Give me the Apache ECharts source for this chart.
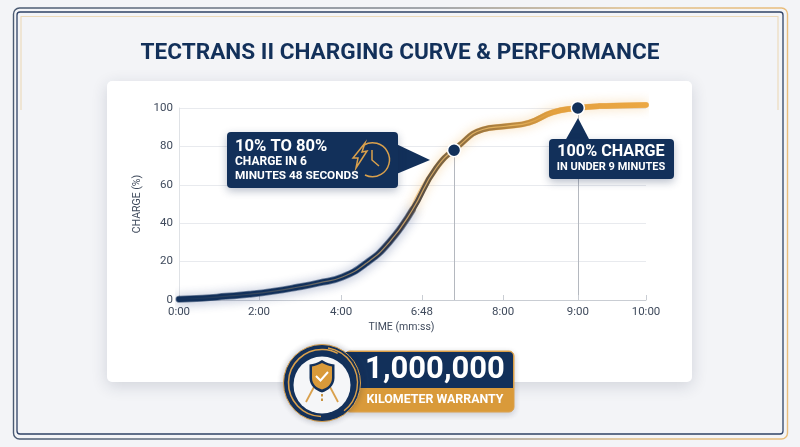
<!DOCTYPE html>
<html><head><meta charset="utf-8">
<style>html,body{margin:0;padding:0;background:#f3f4f7}#c{width:800px;height:447px}</style>
<script src="https://cdn.jsdelivr.net/npm/echarts@6/dist/echarts.min.js"></script>
</head><body><div id="c"></div>
<script>
// Axis tick positions (the reference's axis is not evenly spaced in time)
const tickPositions = [0, 1.713, 3.47, 5.2, 6.94, 8.54, 10];
const tickLabels = ['0:00', '2:00', '4:00', '6:48', '8:00', '9:00', '10:00'];
// Curve
const curveX = [0, 0.5, 1, 1.5, 2, 2.5, 3, 3.5, 4, 4.5, 5, 5.5, 6, 6.5, 7, 7.5, 8, 8.5, 9, 9.5, 10];
const curveY = [0.4, 0.9, 1.9, 3, 4.5, 6.5, 8.9, 12, 19, 30, 47, 68.5, 80.5, 88.8, 90.5, 92.4, 97.7, 99.9, 101, 101.3, 101.6];
const markerTimes = [5.89, 8.54];
const markerValues = [78, 100];
const curve = curveX.map((x, i) => [x, curveY[i]]);

const NAVY = '#12305a', GOLD = '#e3a03e', FONT = 'Roboto';
const chart = echarts.init(document.getElementById('c'), null, {renderer: 'canvas'});
const hg = stops => new echarts.graphic.LinearGradient(0, 0, 1, 0, stops.map(s => ({offset: s[0], color: s[1]})));
const reg = (name, d) => echarts.graphic.registerShape(name, echarts.graphic.extendPath(d, {}));
reg('clockFace', 'M364 145 A17 17 0 1 1 365 175');
reg('bolt', 'M365 143 L353 158 L358 158 L356 168 L367 151 L362 152 Z');
reg('badgeTop', 'M345 352 L509 352 A4 4 0 0 1 513 356 L513 388 L345 388 Z');
reg('shieldOuter', 'M322 360 C317 363 314 364 309.5 364.5 L309.5 378 C309.5 386 316 390.5 322 392.5 C328 390.5 334.5 386 334.5 378 L334.5 364.5 C330 364 327 363 322 360 Z');
reg('shieldInner', 'M322 363 C318 365 315 366 312 366.5 L312 378 C312 384.5 317 388 322 389.5 C327 388 332 384.5 332 378 L332 366.5 C329 366 326 365 322 363 Z');

const splitAt = 11;
const frame = [
  {type:'rect', z:1, shape:{x:13.5,y:8,width:774,height:431,r:6}, style:{fill:'none',lineWidth:1.4,stroke:hg([[0,'#4a5a72'],[0.55,'#8b8f94'],[0.8,'#e0bd85'],[1,'#e9bd7c']])}},
  {type:'rect', z:1, shape:{x:17,y:12,width:766,height:422,r:3}, style:{fill:'none',lineWidth:1.3,stroke:'#2f4266'}},
  {type:'polyline', z:1, shape:{points:[[21,110],[21,16.5],[778,16.5],[778,110]]}, style:{fill:'none',lineWidth:1.1,stroke:'#ecd9b8'}},
  {type:'rect', z:2, shape:{x:107,y:81,width:585,height:301,r:5}, style:{fill:'#fff',shadowBlur:16,shadowColor:'rgba(30,45,75,0.16)',shadowOffsetY:4}},
  {type:'text', z:3, x:400, y:53, style:{text:'TECTRANS II CHARGING CURVE & PERFORMANCE',fill:NAVY,font:'700 22.6px '+FONT,align:'center',verticalAlign:'middle'}}
];

const callouts = [
  {type:'polygon', z:20, shape:{points:[[394,143],[430,160],[394,175]]}, style:{fill:NAVY}},
  {type:'rect', z:20, shape:{x:227,y:132,width:171,height:56,r:4}, style:{fill:NAVY,shadowBlur:8,shadowColor:'rgba(20,40,80,0.3)',shadowOffsetY:3}},
  {type:'text', z:21, x:235,y:146.7, style:{text:'10% TO 80%',fill:'#fff',font:'700 16.6px '+FONT,verticalAlign:'middle'}},
  {type:'text', z:21, x:235,y:162, style:{text:'CHARGE IN 6',fill:'#fff',font:'700 12px '+FONT,verticalAlign:'middle'}},
  {type:'text', z:21, x:235,y:176, style:{text:'MINUTES 48 SECONDS',fill:'#fff',font:'700 11.8px '+FONT,verticalAlign:'middle'}},
  {type:'clockFace', z:21, style:{fill:'none',stroke:'#d9a04c',lineWidth:1.5}},
  {type:'polyline', z:21, shape:{points:[[372,150],[372,160],[379,166]]}, style:{fill:'none',stroke:'#d9a04c',lineWidth:1.5}},
  {type:'bolt', z:22, style:{fill:NAVY,stroke:'#d9a04c',lineWidth:1.5}},
  {type:'polygon', z:20, shape:{points:[[578,118],[565,141],[590,141]]}, style:{fill:NAVY}},
  {type:'rect', z:20, shape:{x:549,y:139,width:125,height:40,r:4}, style:{fill:NAVY,shadowBlur:8,shadowColor:'rgba(20,40,80,0.3)',shadowOffsetY:3}},
  {type:'text', z:21, x:611,y:152.3, style:{text:'100% CHARGE',fill:'#fff',font:'700 16.2px '+FONT,align:'center',verticalAlign:'middle'}},
  {type:'text', z:21, x:611,y:167.3, style:{text:'IN UNDER 9 MINUTES',fill:'#fff',font:'700 11px '+FONT,align:'center',verticalAlign:'middle'}}
];

const badge = [
  {type:'rect', z:30, shape:{x:345,y:351,width:169,height:61,r:5}, style:{fill:GOLD,stroke:'#d9a04c',lineWidth:1,shadowBlur:6,shadowColor:'rgba(30,40,70,0.2)',shadowOffsetY:2}},
  {type:'badgeTop', z:31, style:{fill:NAVY}},
  {type:'rect', z:31, shape:{x:345,y:388,width:168.5,height:23,r:[0,0,5,5]}, style:{fill:'#d99a3a'}},
  {type:'text', z:32, x:435,y:370.5, style:{text:'1,000,000',fill:'#fff',font:'700 31px '+FONT,align:'center',verticalAlign:'middle'}},
  {type:'text', z:32, x:435,y:400, style:{text:'KILOMETER WARRANTY',fill:'#fff',font:'700 12.4px '+FONT,align:'center',verticalAlign:'middle'}},
  {type:'circle', z:33, shape:{cx:322,cy:383,r:38.5}, style:{fill:NAVY,shadowBlur:6,shadowColor:'rgba(30,40,70,0.3)',stroke:'#d9a04c',lineWidth:1}},
  {type:'arc', z:34, shape:{cx:322,cy:383,r:33.5,startAngle:1.6,endAngle:5.2}, style:{fill:'none',stroke:'#d9a04c',lineWidth:1.6}},
  {type:'arc', z:34, shape:{cx:322,cy:383,r:35.5,startAngle:-1.4,endAngle:0.9}, style:{fill:'none',stroke:'#d9a04c',lineWidth:1.4}},
  {type:'circle', z:34, shape:{cx:322,cy:385,r:28.5}, style:{fill:'#f5f6f8'}},
  {type:'shieldOuter', z:36, style:{fill:NAVY}},
  {type:'shieldInner', z:37, style:{fill:'#d99a3a'}},
  {type:'polyline', z:38, shape:{points:[[316,376],[320.5,380.5],[328,372]]}, style:{fill:'none',stroke:'#fff',lineWidth:2}},
  {type:'line', z:35, shape:{x1:315,y1:385,x2:306,y2:402}, style:{stroke:'#d9a04c',lineWidth:1.8}},
  {type:'line', z:35, shape:{x1:329,y1:385,x2:338,y2:402}, style:{stroke:'#d9a04c',lineWidth:1.8}},
  {type:'line', z:37, shape:{x1:322,y1:394,x2:322,y2:403}, style:{stroke:'#c89340',lineWidth:2,lineDash:[2.5,2]}}
];

chart.setOption({
  animation:false,
  backgroundColor: '#f3f4f7',
  grid:{left:179,right:154,top:108,bottom:147,containLabel:false},
  xAxis:{type:'value',min:0,max:10,z:3,
    name:'TIME (mm:ss)',nameLocation:'middle',nameGap:22,
    nameTextStyle:{color:'#3f4a5c',fontFamily:FONT,fontSize:10.5,padding:[0,22,0,0]},
    axisLine:{show:true,lineStyle:{color:'#c9cdd3',width:1}},
    axisTick:{show:true,inside:true,length:5,lineStyle:{color:'#c9cdd3'},customValues:tickPositions},
    axisLabel:{color:'#3f4a5c',fontFamily:FONT,fontSize:11.5,margin:6,customValues:tickPositions,
      formatter:v=>{let i=tickPositions.indexOf(v);return i>=0?tickLabels[i]:'';},hideOverlap:false,showMinLabel:true,showMaxLabel:true},
    splitLine:{show:false}},
  yAxis:{type:'value',min:0,max:100,interval:20,z:3,
    name:'CHARGE (%)',nameLocation:'middle',nameGap:27,nameRotate:90,
    nameTextStyle:{color:'#3f4a5c',fontFamily:FONT,fontSize:10.5},
    axisLine:{show:true,lineStyle:{color:'#dfe2e6'}},
    axisTick:{show:false},
    axisLabel:{color:'#3f4a5c',fontFamily:FONT,fontSize:11.5,margin:6},
    splitLine:{lineStyle:{color:'#e8eaee',width:1}}},
  series:[
    {type:'line',name:'glow-navy',data:curve.slice(0,splitAt),showSymbol:false,smooth:0.5,clip:false,z:4,silent:true,
     lineStyle:{width:7,cap:'round',color:'rgba(18,48,90,0.55)',shadowBlur:11,shadowColor:'rgba(30,55,120,0.7)',shadowOffsetY:1}},
    {type:'line',name:'glow-gold',data:curve.slice(splitAt-1),showSymbol:false,smooth:0.5,clip:false,z:4,silent:true,
     lineStyle:{width:6,cap:'round',color:'rgba(227,160,62,0.5)',shadowBlur:11,shadowColor:'rgba(235,160,50,0.75)'}},
    {type:'line',name:'charge',data:curve,showSymbol:false,smooth:0.5,clip:false,z:5,silent:true,
     lineStyle:{width:5.5,cap:'round',color:hg([[0,NAVY],[0.4,NAVY],[0.47,'#33384a'],[0.56,'#7a6240'],[0.62,'#96723f'],[0.73,'#c08c40'],[0.8,GOLD],[1,'#eca843']])}},
    {type:'line',name:'core',data:curve,showSymbol:false,smooth:0.5,clip:false,z:6,silent:true,
     lineStyle:{width:1.2,color:hg([[0,'rgba(240,190,110,0)'],[0.2,'rgba(240,190,110,0.2)'],[0.5,'rgba(235,185,110,0.8)'],[0.72,'rgba(240,190,100,0.8)'],[0.82,'rgba(240,170,70,0)'],[1,'rgba(240,170,70,0)']])}},
    {type:'scatter',name:'milestones',data:markerTimes.map((x,i)=>[x,markerValues[i]]),clip:false,z:7,silent:true,symbolSize:13,
     itemStyle:{color:NAVY,opacity:1,borderColor:'#fff',borderWidth:1.5},
     markLine:{silent:true,symbol:'none',label:{show:false},lineStyle:{type:'solid',color:'#b4b8bf',width:1},z:3,
       data:markerTimes.map((x,i)=>[{coord:[x,0]},{coord:[x,markerValues[i]]}])}}
  ],
  graphic:{elements:[...frame,...callouts,...badge]}
});
</script></body></html>
